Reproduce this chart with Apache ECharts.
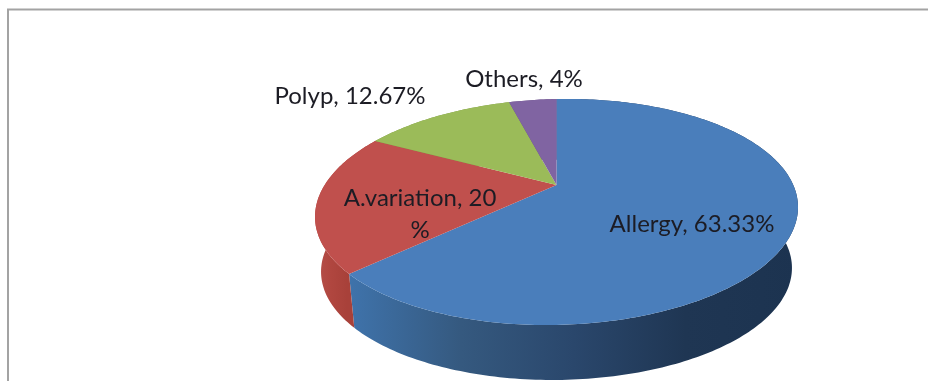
<!DOCTYPE html>
<html>
<head>
<meta charset="utf-8">
<style>html,body{margin:0;padding:0;background:#fff}#chart{width:928px;height:381px}</style>
<script src="https://cdn.jsdelivr.net/npm/echarts@6/dist/echarts.min.js"></script>
</head>
<body>
<div id="chart"></div>
<script>
// Causes and their shares, clockwise from twelve o'clock
const categories = ['Allergy', 'A.variation', 'Polyp', 'Others'];
const shares = [63.33, 20, 12.67, 4];
const labelTexts = ['Allergy, 63.33%', 'A.variation, 20\n%', 'Polyp, 12.67%', 'Others, 4%'];

const topColors = ['#4a7ebb', '#c0504d', '#9bbb59', '#8064a2'];
const wallColors = [
  ['#3f73ab', '#35597f', '#2a476c', '#1f3653', '#1c3350'],
  ['#b5504a', '#b0463f', '#a8413a', '#a8413a', '#a8413a'],
  ['#7c9647', '#7c9647', '#7c9647', '#7c9647', '#7c9647'],
  ['#664f82', '#664f82', '#664f82', '#664f82', '#664f82']
];
const labelAnchors = [[692, 224], [420, 214], [350, 96], [524, 79]];

// Perspective disc: far side is foreshortened, near side is enlarged,
// and the whole thing leans slightly so the left rim sits lower than the right
const disc = { cx: 556.5, cy: 185, halfWidth: 234.5, halfDepth: 106.5, tilt: 0.239, lean: -0.02 };
const base = { drop: 58.5, scale: 0.975, lean: -0.008 };
const total = shares.reduce((a, b) => a + b, 0);

function project(deg, ring) {
  const a = deg * Math.PI / 180;
  const u = Math.sin(a), v = -Math.cos(a);
  const d = 1 - disc.tilt * v;
  const s = ring ? base.scale : 1;
  const dx = s * disc.halfWidth * u / d;
  const lean = ring ? base.lean : disc.lean;
  return [
    disc.cx + dx,
    disc.cy + (ring ? base.drop : 0) + s * disc.halfDepth * v / d + lean * dx
  ];
}

function sweep(i) {
  const before = shares.slice(0, i).reduce((a, b) => a + b, 0);
  return [before / total * 360, (before + shares[i]) / total * 360];
}

function arc(from, to, ring) {
  const pts = [];
  const n = Math.max(2, Math.ceil(to - from));
  for (let k = 0; k <= n; k++) pts.push(project(from + (to - from) * k / n, ring));
  return pts;
}

function renderWall(params) {
  const [from, to] = sweep(params.dataIndex);
  const stops = wallColors[params.dataIndex];
  return {
    type: 'polygon',
    shape: { points: arc(from, to, 0).concat(arc(from, to, 1).reverse()) },
    style: {
      fill: new echarts.graphic.LinearGradient(0, 0, 1, 0,
        stops.map((color, k) => ({ offset: k / (stops.length - 1), color })).reverse())
    }
  };
}

function renderTop(params) {
  const [from, to] = sweep(params.dataIndex);
  return {
    type: 'polygon',
    shape: { points: [[disc.cx, disc.cy]].concat(arc(from, to, 0)) },
    style: { fill: topColors[params.dataIndex] }
  };
}

function renderLabel(params) {
  const i = params.dataIndex;
  return {
    type: 'text',
    x: labelAnchors[i][0],
    y: labelAnchors[i][1],
    style: {
      text: labelTexts[i],
      fill: '#1c1c24',
      font: '24px Lato, "Open Sans", sans-serif',
      align: 'center',
      verticalAlign: 'middle',
      lineHeight: 32
    }
  };
}

const rows = categories.map((name, i) => ({ name, value: [shares[i]] }));
const layer = (renderItem) => ({
  type: 'custom', coordinateSystem: 'none', data: rows, renderItem,
  animation: false, silent: true, clip: false
});

const chart = echarts.init(document.getElementById('chart'), null, { renderer: 'canvas' });
chart.setOption({
  backgroundColor: '#ffffff',
  animation: false,
  series: [layer(renderWall), layer(renderTop), layer(renderLabel)],
  graphic: [
    { type: 'polyline', shape: { points: [[8, 381], [8, 9.5], [928, 9.5]] },
      style: { fill: null, stroke: '#a3a3a3', lineWidth: 2 }, silent: true }
  ]
});
</script>
</body>
</html>
